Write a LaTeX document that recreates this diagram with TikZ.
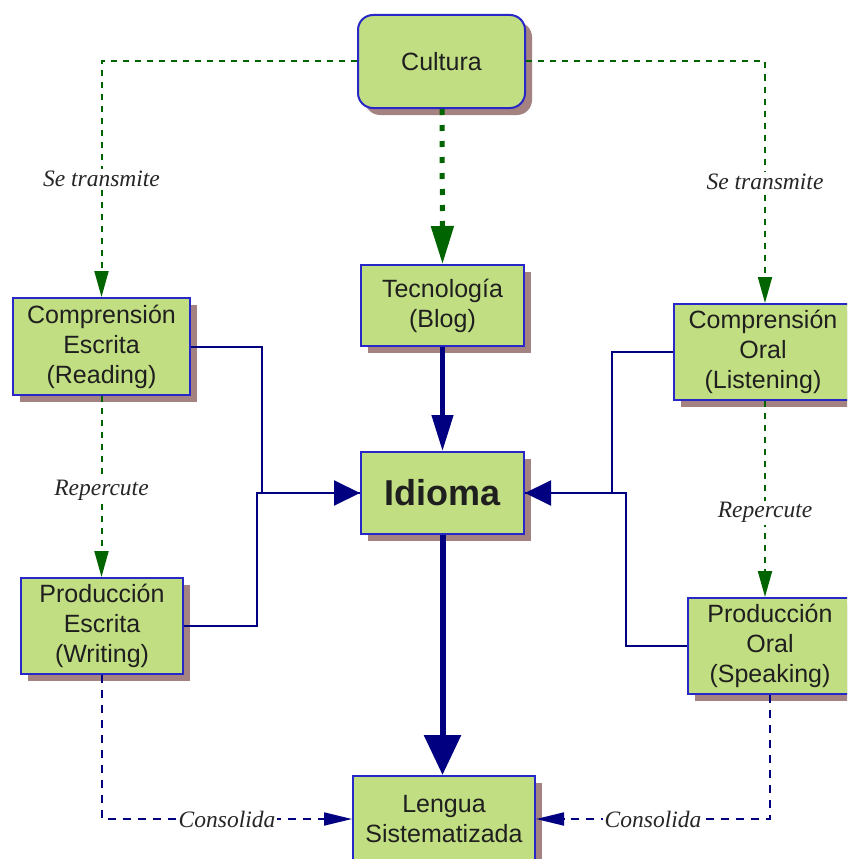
\documentclass[tikz,border=0pt]{standalone}
\usepackage{fontspec}
\setmainfont{Liberation Serif}
\setsansfont{Liberation Sans}
\usetikzlibrary{arrows.meta,shadows}
\definecolor{boxfill}{RGB}{194,222,130}
\definecolor{boxline}{RGB}{40,40,200}
\definecolor{shadowc}{RGB}{165,130,130}
\definecolor{navyc}{RGB}{0,0,128}
\definecolor{greenc}{RGB}{0,100,0}
\tikzset{
  box/.style={draw=boxline, line width=2pt, fill=boxfill, align=center,
    font=\sffamily\fontsize{25}{30}\selectfont, text=black!88,
    drop shadow={shadow xshift=7pt, shadow yshift=-7pt, fill=shadowc, opacity=1},
    inner sep=0pt},
  lbl/.style={fill=white, inner sep=2pt, font=\itshape\fontsize{23.5}{27}\selectfont, text=black!85},
  gdash/.style={draw=greenc, line width=2pt, dash pattern=on 6pt off 6pt},
  ndash/.style={draw=navyc, line width=1.8pt, dash pattern=on 8pt off 7pt},
  nline/.style={draw=navyc, line width=2pt},
}
\begin{document}
\begin{tikzpicture}[x=1pt,y=-1pt]
\useasboundingbox (0,0) rectangle (847,859);
\clip (0,0) rectangle (847,859);
% nodes
\node[box, rounded corners=15pt, minimum width=167pt, minimum height=93pt] (cult) at (441.5,61.5) {Cultura};
\node[box, minimum width=163pt, minimum height=81pt] (tec) at (442.5,305.5) {Tecnología\\(Blog)};
\node[box, minimum width=163pt, minimum height=82pt, font=\sffamily\bfseries\fontsize{36}{40}\selectfont] (idioma) at (442.5,493) {Idioma};
\node[box, minimum width=182pt, minimum height=86pt] (lengua) at (444,819) {Lengua\\Sistematizada};
\node[box, minimum width=177pt, minimum height=97pt] (compE) at (101.5,346.5) {Comprensión\\Escrita\\(Reading)};
\node[box, minimum width=162pt, minimum height=96pt] (prodE) at (102,626) {Producción\\Escrita\\(Writing)};
\node[box, minimum width=178pt, minimum height=96pt] (compO) at (763,352) {Comprensión\\Oral\\(Listening)};
\node[box, minimum width=164pt, minimum height=96pt] (prodO) at (770,646) {Producción\\Oral\\(Speaking)};
% green dashed
\draw[gdash, -{Triangle[length=26pt,width=14pt]}] (cult.west) -| (compE.north)
  node[lbl, pos=0.75] (st1) {Se transmite};
\draw[gdash, -{Triangle[length=26pt,width=14pt]}] (cult.east) -| ([xshift=2pt]compO.north)
  node[lbl, pos=0.75] (st2) {Se transmite};
\draw[gdash, -{Triangle[length=26pt,width=14pt]}] (compE.south) -- (compE.south |- prodE.north)
  node[lbl, pos=0.52] (rp1) {Repercute};
\draw[gdash, -{Triangle[length=26pt,width=14pt]}] ([xshift=2pt]compO.south) -- ([xshift=2pt]compO.south |- prodO.north)
  node[lbl, pos=0.57] (rp2) {Repercute};
\draw[draw=greenc, line width=5pt, dash pattern=on 6pt off 10pt, -{Triangle[length=38pt,width=22pt]}] ([xshift=0.5pt]cult.south) -- (tec.north);
% navy
\draw[nline, line width=4.5pt, -{Triangle[length=36pt,width=21pt]}] (tec.south) -- (idioma.north);
\draw[nline, line width=6pt, -{Triangle[length=40pt,width=36pt]}] (idioma.south) -- (idioma.south |- lengua.north);
\draw[nline] (compE.east) -- ++(71,0) |- (idioma.west);
\draw[nline, -{Triangle[length=26pt,width=25pt]}] (prodE.east) -| ([xshift=-103pt]idioma.west) -- (idioma.west);
\draw[nline] (compO.west) -- ++(-61,0) |- (idioma.east);
\draw[nline, -{Triangle[length=26pt,width=25pt]}] (prodO.west) -| ([xshift=101pt]idioma.east) -- (idioma.east);
\draw[ndash, -{Triangle[length=28pt,width=13pt]}] (prodE.south) |- (lengua.west)
  node[lbl, pos=0.75] (cs1) {Consolida};
\draw[ndash, -{Triangle[length=28pt,width=13pt]}] (prodO.south) |- (lengua.east)
  node[lbl, pos=0.75] (cs2) {Consolida};
\end{tikzpicture}
\end{document}
